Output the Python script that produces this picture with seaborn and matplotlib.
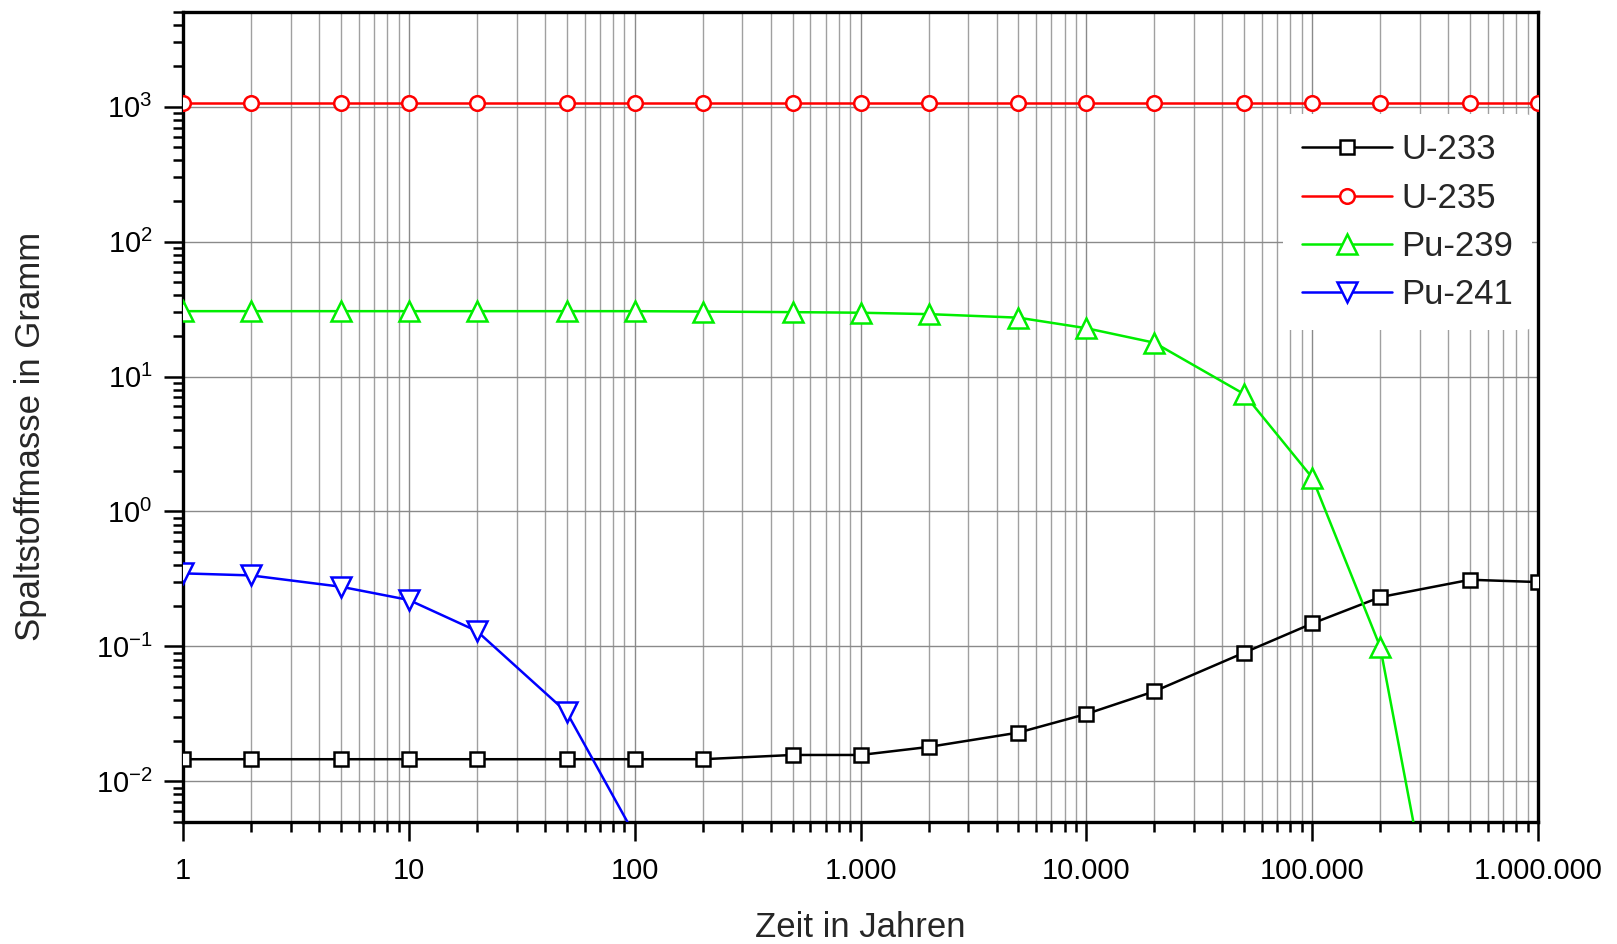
import numpy as np
import pandas as pd
import seaborn as sns
import matplotlib.pyplot as plt
from matplotlib.ticker import LogLocator, FuncFormatter, NullFormatter

# Zeitpunkte in Jahren
zeit = [1, 2, 5, 10, 20, 50, 100, 200, 500, 1000, 2000, 5000,
        10000, 20000, 50000, 100000, 200000, 500000, 1000000]

# Spaltstoffmasse in Gramm
u233 = [0.0146, 0.0146, 0.0146, 0.0146, 0.0146, 0.0146, 0.0146, 0.0146,
        0.0157, 0.0157, 0.0180, 0.0230, 0.0316, 0.0465, 0.090, 0.148,
        0.232, 0.312, 0.300]
u235 = [1060] * len(zeit)
pu239 = [30.5, 30.5, 30.5, 30.5, 30.5, 30.5, 30.5, 30.3, 30.0, 29.7,
         29.0, 27.3, 22.8, 17.8, 7.4, 1.78, 0.099, 3e-5, np.nan]
pu241 = [0.348, 0.336, 0.277, 0.221, 0.130, 0.0325, 0.004, 3e-5] + \
        [np.nan] * (len(zeit) - 8)

nuklide = ["U-233", "U-235", "Pu-239", "Pu-241"]
werte = [u233, u235, pu239, pu241]
farben = ["black", "#ff0000", "#00ee00", "#0000ff"]
marker = ["s", "o", "^", "v"]
msize = [10, 10.5, 14.5, 14.5]

df = pd.DataFrame({
    "Zeit": zeit * len(nuklide),
    "Masse": sum(werte, []),
    "Nuklid": np.repeat(nuklide, len(zeit)),
})

sns.set_theme(style="ticks")
plt.rcParams["font.family"] = ["Liberation Sans", "DejaVu Sans"]
plt.rcParams["mathtext.fontset"] = "custom"
plt.rcParams["mathtext.rm"] = "Liberation Sans"
plt.rcParams["axes.unicode_minus"] = False

fig = plt.figure(figsize=(16.17, 9.44), dpi=100)
ax = fig.add_axes([0.1132, 0.1292, 0.8380, 0.8578])
ax.set_xscale("log")
ax.set_yscale("log")

for name, col, m, ms in zip(nuklide, farben, marker, msize):
    sub = df[df["Nuklid"] == name].dropna()
    sns.lineplot(data=sub, x="Zeit", y="Masse", ax=ax, color=col, lw=1.8,
                 marker=m, markersize=ms, markerfacecolor="white",
                 markeredgecolor=col, markeredgewidth=1.8, label=name,
                 sort=True, estimator=None, zorder=3)

ax.set_xlim(1, 1e6)
ax.set_ylim(5e-3, 5e3)

ax.xaxis.set_major_locator(LogLocator(base=10, numticks=20))
ax.xaxis.set_minor_locator(LogLocator(base=10, subs=np.arange(2, 10), numticks=100))
ax.yaxis.set_major_locator(LogLocator(base=10, numticks=20))
ax.yaxis.set_minor_locator(LogLocator(base=10, subs=np.arange(2, 10), numticks=100))
ax.xaxis.set_major_formatter(FuncFormatter(lambda v, p: f"{int(round(v)):,}".replace(",", ".")))
ax.xaxis.set_minor_formatter(NullFormatter())
ax.yaxis.set_minor_formatter(NullFormatter())

ax.grid(which="major", axis="both", color="#8a8a8a", lw=1.0)
ax.grid(which="minor", axis="x", color="#a0a0a0", lw=1.0)
ax.set_axisbelow(True)

for s in ax.spines.values():
    s.set_linewidth(2.4)
    s.set_color("black")
ax.tick_params(which="major", direction="out", length=14, width=1.8,
               labelsize=21, pad=8, colors="black")
ax.tick_params(which="minor", direction="out", length=7, width=1.8, colors="black")
ax.tick_params(axis="x", which="major", pad=11)

ax.set_xlabel("Zeit in Jahren", fontsize=25)
ax.set_ylabel("Spaltstoffmasse in Gramm", fontsize=25)
ax.xaxis.set_label_coords(0.5, -0.110)
ax.yaxis.set_label_coords(-0.1007, 0.476)

leg = ax.legend(loc="upper right", bbox_to_anchor=(0.9956, 0.874),
                borderaxespad=0, frameon=True, fontsize=25, handlelength=2.6,
                handletextpad=0.25, labelspacing=0.44, borderpad=0.55)
leg.get_frame().set_facecolor("white")
leg.get_frame().set_edgecolor("none")
leg.get_frame().set_alpha(1)
leg.set_zorder(5)

plt.savefig("out.png", dpi=100)
